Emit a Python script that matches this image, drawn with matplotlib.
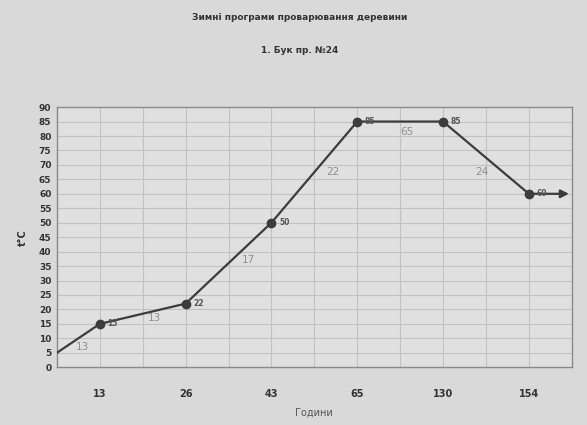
import matplotlib
matplotlib.use("Agg")
import matplotlib.pyplot as plt
import numpy as np

# Winter wood-steaming schedule: beech, programme No 24
hours = ["13", "26", "43", "65", "130", "154"]
start_temp = 5
temps = [15, 22, 50, 85, 85, 60]
stage_hours = ["13", "13", "17", "22", "65", "24"]

title = "Зимні програми проварювання деревини"
subtitle = "1. Бук пр. №24"

paper = "#d9d9d9"
ink = "#3c3c3c"
grid_c = "#c2c2c2"

fig = plt.figure(figsize=(5.87, 4.25), dpi=100, facecolor=paper)
ax = fig.add_axes([0.097, 0.136, 0.877, 0.612], facecolor="#e0e0e0")

n = len(hours)
centers = np.arange(n) + 0.5
xs = np.concatenate([[0.0], centers])
ys = np.concatenate([[start_temp], temps])

ax.set_xlim(0, n)
ax.set_ylim(0, 90)
ax.set_yticks(np.arange(0, 91, 5))
ax.set_xticks(centers)
ax.set_xticklabels(hours)

# grid: every 5 degrees, every half category
for y in np.arange(5, 90, 5):
    ax.axhline(y, color=grid_c, lw=0.8, zorder=0)
for x in np.arange(0.5, n, 0.5):
    ax.axvline(x, color=grid_c, lw=0.8, zorder=0)

for s in ax.spines.values():
    s.set_color("#8a8a8a")
    s.set_linewidth(1.0)

ax.plot(xs, ys, color=ink, lw=1.6, zorder=3)
ax.plot(centers, temps, "o", color=ink, ms=6, zorder=4)
ax.annotate("", xy=(n, temps[-1]), xytext=(centers[-1], temps[-1]),
            arrowprops=dict(arrowstyle="-|>", color=ink, lw=1.6,
                            mutation_scale=12), zorder=3)

# value next to each point
for x, t in zip(centers, temps):
    ax.text(x + 0.09, t, str(t), fontsize=5.5, fontweight="bold",
            color="#555555", va="center", ha="left", zorder=5)

# stage duration placed near the middle of each segment
label_shift = [(0.05, -3.1), (0.14, -1.5), (0.23, 1.0),
               (0.22, 0.0), (0.08, -3.7), (-0.05, -5.0)]
for i, lab in enumerate(stage_hours):
    mx = (xs[i] + xs[i + 1]) / 2 + label_shift[i][0]
    my = (ys[i] + ys[i + 1]) / 2 + label_shift[i][1]
    ax.text(mx, my, lab, fontsize=7.5, color="#8f8f8f", ha="center",
            va="center", zorder=5)

ax.tick_params(axis="both", length=0, colors="#333333")
ax.tick_params(axis="x", pad=16)
ax.tick_params(axis="y", pad=4)
for lbl in ax.get_yticklabels():
    lbl.set_fontsize(6.5)
    lbl.set_fontweight("bold")
for lbl in ax.get_xticklabels():
    lbl.set_fontsize(7)
    lbl.set_fontweight("bold")

ax.set_ylabel("t°C", fontsize=7, fontweight="bold", color="#333333", labelpad=8)
ax.set_xlabel("Години", fontsize=7, color="#555555", labelpad=6)

fig.text(0.511, 0.958, title, ha="center", va="center", fontsize=6.5,
         fontweight="bold", color="#333333")
fig.text(0.511, 0.882, subtitle, ha="center", va="center", fontsize=6.5,
         fontweight="bold", color="#333333")

fig.savefig("out.png", dpi=100, facecolor=paper)
